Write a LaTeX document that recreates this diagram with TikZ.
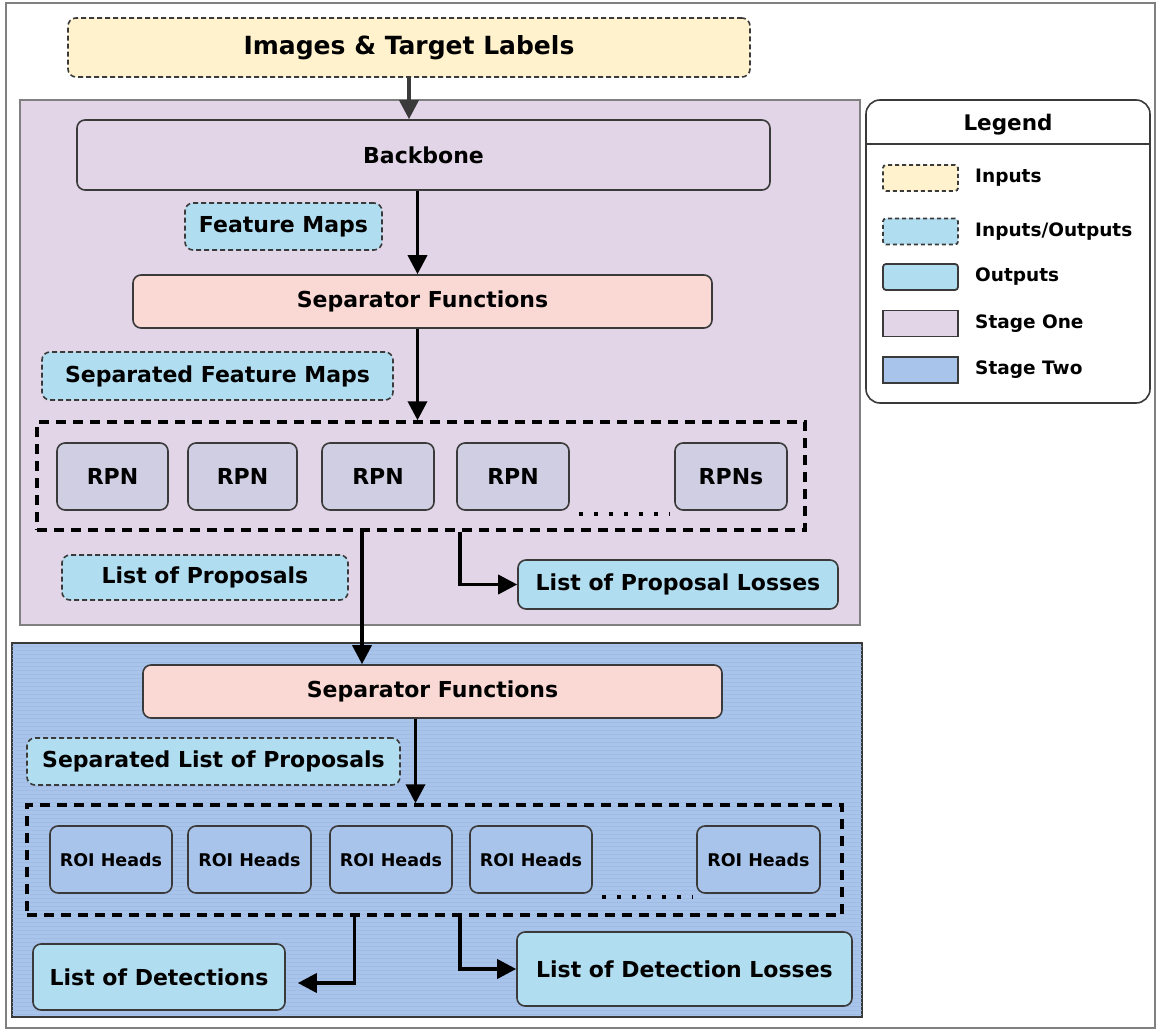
\documentclass[tikz,border=0pt]{standalone}
\usepackage{fontspec}
\setmainfont{DejaVu Sans}
\usetikzlibrary{arrows.meta,calc}

\definecolor{inyellow}{HTML}{FFF2CC}
\definecolor{stageone}{HTML}{E1D5E7}
\definecolor{iofill}{HTML}{B1DDF0}
\definecolor{sepfill}{HTML}{FAD9D5}
\definecolor{rpnfill}{HTML}{D0CEE2}
\definecolor{stagetwo}{HTML}{A9C4EB}
\definecolor{stripe}{HTML}{A0BCE4}
\definecolor{edge}{HTML}{3A3A3A}

\tikzset{
  box/.style={draw=edge, line width=1.6pt, rounded corners=8pt, inner sep=0pt,
              align=center, font=\bfseries\fontsize{22}{26}\selectfont},
  dbox/.style={box, dashed, dash pattern=on 5pt off 3pt},
  panel/.style={draw=#1, line width=1.2pt, inner sep=0pt},
  group/.style={draw=black, line width=3.4pt, dash pattern=on 10pt off 7pt, inner sep=0pt},
  flow/.style={line width=3.6pt, -{Triangle[length=19pt,width=19pt]}},
  swatch/.style={draw=edge, line width=1.8pt, rounded corners=3pt,
                 minimum width=75pt, minimum height=26pt, inner sep=0pt},
  legtext/.style={anchor=west, inner sep=0pt, font=\bfseries\fontsize{18.5}{22}\selectfont},
  dots/.style={line width=4.5pt, dash pattern=on 4pt off 11pt}
}

\begin{document}
\begin{tikzpicture}[x=1pt,y=-1pt]
  \useasboundingbox (0,0) rectangle (1160,1032);
  \draw[line width=1.2pt, gray] (6,3) rectangle (1155,1028);

  % inputs
  \node[dbox, fill=inyellow, minimum width=682pt, minimum height=59pt,
        font=\bfseries\fontsize{25}{29}\selectfont]
        (input) at (409,47.5) {Images \& Target Labels};

  % stage one panel
  \node[panel=gray, fill=stageone, minimum width=840pt, minimum height=525pt]
        (stageone) at (440,362.5) {};

  \node[box, fill=stageone, minimum width=693pt, minimum height=70pt]
        (backbone) at (423.5,155) {Backbone};
  \node[dbox, fill=iofill, minimum width=197pt, minimum height=47pt]
        (featmaps) at (283.5,226.5) {Feature Maps};
  \node[box, fill=sepfill, minimum width=579pt, minimum height=53pt]
        (sepone) at (422.5,301.5) {Separator Functions};
  \node[dbox, fill=iofill, minimum width=351pt, minimum height=48pt]
        (sepfeat) at (217.5,376) {Separated Feature Maps};

  \node[group, minimum width=768pt, minimum height=108pt] (rpngroup) at (421,476) {};
  \foreach \name/\cx/\w/\txt in {rpna/112.5/111/RPN, rpnb/242.5/109/RPN,
      rpnc/378/112/RPN, rpnd/513/112/RPN, rpne/731/112/RPNs}
    \node[box, fill=rpnfill, minimum width=\w pt, minimum height=67pt]
          (\name) at (\cx,476.5) {\txt};
  \draw[dots] ([xshift=9pt,yshift=-3pt]rpnd.south east) -- ([xshift=-4pt,yshift=-3pt]rpne.south west);

  \node[dbox, fill=iofill, minimum width=286pt, minimum height=45pt]
        (proposals) at (205,577.5) {List of Proposals};
  \node[box, fill=iofill, minimum width=320pt, minimum height=49pt]
        (proploss) at (678,584.5) {List of Proposal Losses};

  % stage two panel with its fine horizontal ruling
  \node[panel=edge, fill=stagetwo, minimum width=850pt, minimum height=374pt]
        (stagetwo) at (437,830) {};
  \begin{scope}
    \clip ([shift={(1pt,-1pt)}]stagetwo.north west) rectangle ([shift={(-1pt,1pt)}]stagetwo.south east);
    \foreach \yy in {646,650,...,1016}
      \draw[stripe, line width=0.6pt] (12,\yy) -- (862,\yy);
  \end{scope}

  \node[box, fill=sepfill, minimum width=579pt, minimum height=53pt]
        (septwo) at (432.5,691.5) {Separator Functions};
  \node[dbox, fill=iofill, minimum width=373pt, minimum height=47pt]
        (seplist) at (213.5,761.5) {Separated List of Proposals};

  \node[group, minimum width=815pt, minimum height=110pt] (roigroup) at (434.5,860) {};
  \foreach \name/\cx/\w in {roia/111/122, roib/249.5/123, roic/391/122,
      roid/531/122, roie/758.5/123}
    \node[box, fill=stagetwo, minimum width=\w pt, minimum height=67pt,
          font=\bfseries\fontsize{17.5}{20}\selectfont]
          (\name) at (\cx,859.5) {ROI Heads};
  \draw[dots] ([xshift=9pt,yshift=-3pt]roid.south east) -- ([xshift=-4pt,yshift=-3pt]roie.south west);

  \node[box, fill=iofill, minimum width=252pt, minimum height=66pt]
        (detections) at (159,977) {List of Detections};
  \node[box, fill=iofill, minimum width=335pt, minimum height=74pt]
        (detloss) at (684.5,969) {List of Detection Losses};

  % connectors
  \draw[flow, edge] (input.south) -- (input.south |- backbone.north);
  \draw[flow] ([xshift=-5pt]backbone.south -| sepone.north) -- ([xshift=-5pt]sepone.north);
  \draw[flow] ([xshift=-5pt]sepone.south) -- ([xshift=-5pt]sepone.south |- rpngroup.north);
  \draw[flow] ([xshift=-59pt]rpngroup.south) -- ([xshift=-59pt]rpngroup.south |- septwo.north);
  \draw[flow] ([xshift=39pt]rpngroup.south) |- (proploss.west);
  \draw[flow] ([xshift=-17pt]septwo.south) -- ([xshift=-17pt]septwo.south |- roigroup.north);
  \draw[flow, shorten >=12pt] ([xshift=-80pt]roigroup.south) |- ([yshift=-6pt]detections.east);
  \draw[flow] ([xshift=25.5pt]roigroup.south) |- (detloss.west);

  % legend
  \node[draw=edge, line width=1.6pt, rounded corners=14pt, fill=white,
        minimum width=284pt, minimum height=303pt, inner sep=0pt]
        (legend) at (1008,251.5) {};
  \node[font=\bfseries\fontsize{21.5}{25}\selectfont, inner sep=0pt]
        (legtitle) at (1008,125) {Legend};
  \draw[edge, line width=1.6pt] (legend.west |- 0,144) -- (legend.east |- 0,144);

  \node[swatch, fill=inyellow, dashed, dash pattern=on 4pt off 3pt] (swa) at (920.5,178) {};
  \node[swatch, fill=iofill, dashed, dash pattern=on 4pt off 3pt] (swb) at (920.5,231.5) {};
  \node[swatch, fill=iofill] (swc) at (920.5,277) {};
  \node[swatch, fill=stageone, rounded corners=0pt] (swd) at (920.5,323.5) {};
  \node[swatch, fill=stagetwo, rounded corners=0pt] (swe) at (920.5,370) {};

  \node[legtext] (lga) at (975,178) {Inputs};
  \node[legtext] (lgb) at (975,231.5) {Inputs/Outputs};
  \node[legtext] (lgc) at (975,277) {Outputs};
  \node[legtext] (lgd) at (975,323.5) {Stage One};
  \node[legtext] (lge) at (975,370) {Stage Two};
\end{tikzpicture}
\end{document}
